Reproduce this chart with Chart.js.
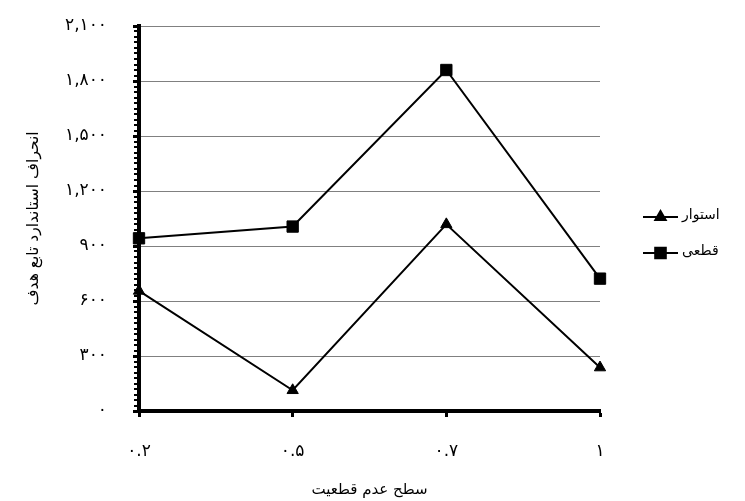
<!DOCTYPE html>
<html>
<head>
<meta charset="utf-8">
<script src="https://cdn.jsdelivr.net/npm/chart.js@4/dist/chart.umd.min.js"></script>
<style>
  html, body { margin: 0; padding: 0; background: #fff; }
  #wrap { width: 745px; height: 501px; }
</style>
</head>
<body>
<div id="wrap"><canvas id="c" width="745" height="501"></canvas></div>
<script>
// Uncertainty levels (x axis) and their Persian tick labels
const levels = [0.2, 0.5, 0.7, 1];
const levelLabels = ['۰.۲', '۰.۵', '۰.۷', '۱'];

// Standard deviation of the objective function for each approach
const robustValues = [655, 113, 1018, 237];        // استوار
const deterministicValues = [942, 1006, 1860, 722]; // قطعی

const seriesNames = ['استوار', 'قطعی'];
const xTitle = 'سطح عدم قطعیت';
const yTitle = 'انحراف استاندارد تابع هدف';

const yMin = 0, yMax = 2100, yStep = 300, yMinorStep = 30;

const FONT = '"DejaVu Sans", sans-serif';
const faDigits = '۰۱۲۳۴۵۶۷۸۹';
function toPersian(n) {
  return n.toLocaleString('en-US').replace(/\d/g, d => faDigits[+d]);
}

const markerRadius = { triangle: 6.5, rect: 8 };

// Minor tick marks on the value axis
const minorTicks = {
  id: 'minorTicks',
  afterDraw(chart) {
    const y = chart.scales.y, ctx = chart.ctx;
    const x0 = chart.chartArea.left;
    ctx.save();
    ctx.fillStyle = '#000';
    for (let v = yMin; v <= yMax; v += yMinorStep) {
      const py = Math.round(y.getPixelForValue(v));
      ctx.fillRect(x0 - 5, py - 1, 5, 2);
    }
    ctx.restore();
  }
};

// Legend drawn as line + marker sample, with right-to-left text
const lineLegend = {
  id: 'lineLegend',
  afterDraw(chart) {
    const ctx = chart.ctx;
    const area = chart.chartArea;
    const xs = area.right + 43, xe = area.right + 78, xm = (xs + xe) / 2;
    const rows = [area.top + 191, area.top + 227];
    chart.data.datasets.forEach((ds, i) => {
      const yy = rows[i];
      ctx.save();
      ctx.strokeStyle = ds.borderColor;
      ctx.lineWidth = 2;
      ctx.beginPath();
      ctx.moveTo(xs, yy);
      ctx.lineTo(xe, yy);
      ctx.stroke();
      ctx.fillStyle = '#000';
      Chart.helpers.drawPoint(ctx, {
        pointStyle: ds.pointStyle, radius: markerRadius[ds.pointStyle] - 0.5, borderWidth: 1
      }, xm, yy);
      ctx.font = '14px ' + FONT;
      ctx.textAlign = 'left';
      ctx.textBaseline = 'middle';
      ctx.fillText(ds.label, xe + 4, yy - 2);
      ctx.restore();
    });
  }
};

new Chart(document.getElementById('c'), {
  type: 'line',
  data: {
    labels: levelLabels,
    datasets: [
      {
        label: seriesNames[0],
        data: robustValues,
        borderColor: '#000', backgroundColor: '#000',
        borderWidth: 2, pointStyle: 'triangle', pointRadius: markerRadius.triangle,
        pointBorderWidth: 1, tension: 0
      },
      {
        label: seriesNames[1],
        data: deterministicValues,
        borderColor: '#000', backgroundColor: '#000',
        borderWidth: 2, pointStyle: 'rect', pointRadius: markerRadius.rect,
        pointBorderWidth: 1, tension: 0
      }
    ]
  },
  options: {
    responsive: false,
    animation: false,
    devicePixelRatio: 1,
    layout: { padding: { left: 25, right: 145, top: 26, bottom: 2 } },
    plugins: { legend: { display: false }, tooltip: { enabled: false } },
    scales: {
      x: {
        type: 'category',
        offset: false,
        grid: { drawOnChartArea: false, drawTicks: true, tickLength: 6, tickColor: '#000', tickWidth: 3 },
        border: { color: '#000', width: 4 },
        ticks: { color: '#000', font: { family: FONT, size: 17 }, padding: 24, maxRotation: 0 },
        title: { display: true, text: xTitle, color: '#000', font: { family: FONT, size: 15 }, padding: { top: 14, bottom: 0 } },
        afterFit(s) { s.height = 88; s.paddingLeft = 0; s.paddingRight = 0; }
      },
      y: {
        min: yMin, max: yMax,
        grid: { color: '#808080', lineWidth: 1, tickColor: '#000', tickWidth: 3, tickLength: 6 },
        border: { color: '#000', width: 4 },
        ticks: {
          stepSize: yStep, color: '#000', font: { family: FONT, size: 17 }, padding: 26,
          callback: v => toPersian(v)
        },
        title: { display: true, text: yTitle, color: '#000', font: { family: FONT, size: 15.5 }, padding: { top: 0, bottom: 0 } },
        afterFit(s) { s.width = 114; s.paddingTop = 0; s.paddingBottom = 0; }
      }
    }
  },
  plugins: [minorTicks, lineLegend]
});
</script>
</body>
</html>
